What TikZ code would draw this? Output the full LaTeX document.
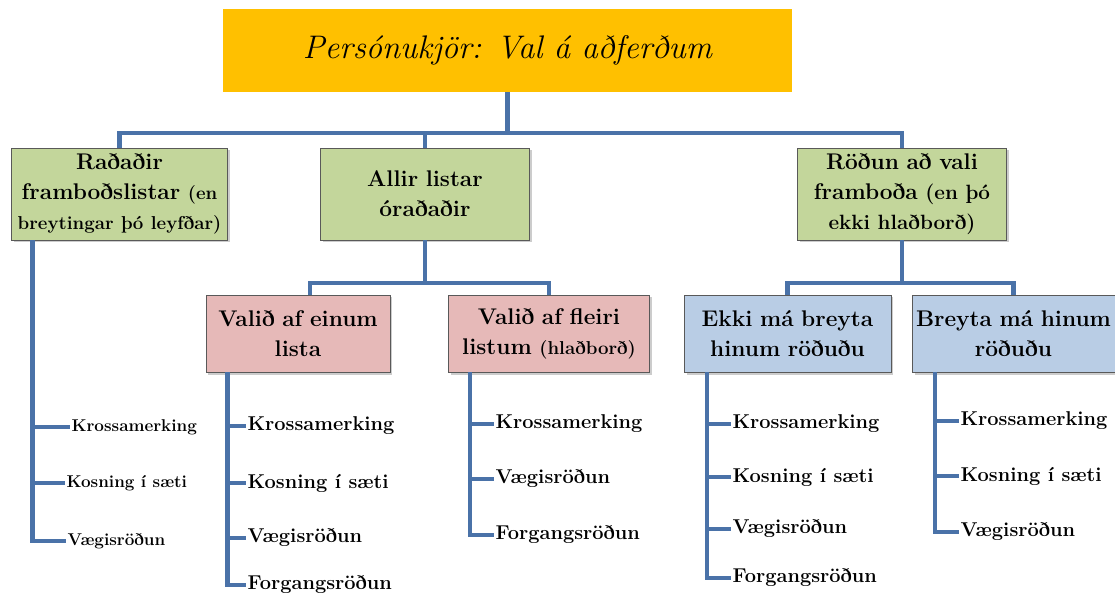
\documentclass[tikz,border=0pt]{standalone}
\usepackage{fontspec}
\usetikzlibrary{shadows}
\definecolor{trunk}{HTML}{4A72A8}
\definecolor{gold}{HTML}{FFC000}
\definecolor{grn}{HTML}{C3D69B}
\definecolor{pnk}{HTML}{E6B9B8}
\definecolor{blu}{HTML}{B9CDE5}
\begin{document}
\begin{tikzpicture}[x=0.75pt,y=-0.75pt,
  conn/.style={draw=trunk, line width=3.6pt},
  box/.style={draw=black!65, thin, align=center, inner sep=1.5pt,
    font=\fontsize{17}{22.5}\selectfont\bfseries,
    drop shadow={shadow xshift=1.8pt, shadow yshift=-1.8pt, opacity=.4}},
  lvlA/.style={box, fill=grn, minimum height=69pt},
  lvlP/.style={box, fill=pnk, minimum height=58pt},
  lvlB/.style={box, fill=blu, minimum height=58pt},
  item/.style={anchor=west, inner sep=1pt, font=\fontsize{15}{17}\selectfont\bfseries},
  smallitem/.style={anchor=west, inner sep=1pt, font=\fontsize{12.8}{15}\selectfont\bfseries}]
  \useasboundingbox (0,0) rectangle (1115,594);
  \node[fill=gold, minimum width=426.75pt, minimum height=62.25pt,
    font=\fontsize{24.5}{28}\selectfont\itshape] (root) at (507.5,50.5) {Persónukjör: Val á aðferðum};
  \node[lvlA, text width=159pt] (ranked) at (119.5,194) {Raðaðir\\ framboðslistar {\fontsize{14}{22.5}\selectfont(en}\\ {\fontsize{14}{22.5}\selectfont breytingar þó leyfðar)}};
  \node[lvlA, text width=154pt] (unranked) at (425,194) {Allir listar\\ óraðaðir};
  \node[lvlA, text width=154pt] (choice) at (902,194) {Röðun að vali\\ framboða {\fontsize{15.5}{22.5}\selectfont(en þó}\\ {\fontsize{15.5}{22.5}\selectfont ekki hlaðborð)}};
  \node[lvlP, text width=135pt] (one) at (298,333.5) {Valið af einum\\ lista};
  \node[lvlP, text width=148pt] (many) at (549,333.5) {Valið af fleiri\\ listum {\fontsize{14}{22.5}\selectfont(hlaðborð)}};
  \node[lvlB, text width=152pt] (fixed) at (787.5,333.5) {Ekki má breyta\\ hinum röðuðu};
  \node[lvlB, text width=149pt] (free) at (1013.5,333.5) {Breyta má hinum\\ röðuðu};

  \coordinate (hub) at (507.5,133);
  \coordinate (hubL) at (425,283);
  \coordinate (hubR) at (902,283);
  \draw[conn] (root.south) -- (hub);
  \foreach \n in {ranked,unranked,choice}
    \draw[conn] (hub) -| (\n.north);
  \draw[conn] (unranked.south) -- (hubL);
  \draw[conn] (hubL) -| ([xshift=9pt]one.north);
  \draw[conn] (hubL) -| (many.north);
  \draw[conn] (choice.south) -- (hubR);
  \draw[conn] (hubR) -| (fixed.north);
  \draw[conn] (hubR) -| (free.north);

  \foreach \t/\x/\y [count=\i] in {Krossamerking/70/427, Kosning í sæti/65/483, Vægisröðun/66/541}{
    \node[smallitem] (ranked-\i) at (\x,\y) {\t};
    \draw[conn] (ranked.south west) ++(21,0) |- (ranked-\i.west);
  }
  \foreach \t/\y [count=\i] in {Krossamerking/426, Kosning í sæti/483, Vægisröðun/538, Forgangsröðun/585}{
    \node[item] (one-\i) at (246,\y) {\t};
    \draw[conn] (one.south west) ++(22,0) |- (one-\i.west);
  }
  \foreach \t/\y [count=\i] in {Krossamerking/424, Vægisröðun/479, Forgangsröðun/535}{
    \node[item] (many-\i) at (494,\y) {\t};
    \draw[conn] (many.south west) ++(22,0) |- (many-\i.west);
  }
  \foreach \t/\y [count=\i] in {Krossamerking/424, Kosning í sæti/477, Vægisröðun/529, Forgangsröðun/578}{
    \node[item] (fixed-\i) at (731,\y) {\t};
    \draw[conn] (fixed.south west) ++(23,0) |- (fixed-\i.west);
  }
  \foreach \t/\y [count=\i] in {Krossamerking/421, Kosning í sæti/476, Vægisröðun/532}{
    \node[item] (free-\i) at (959,\y) {\t};
    \draw[conn] (free.south west) ++(23,0) |- (free-\i.west);
  }
\end{tikzpicture}
\end{document}
